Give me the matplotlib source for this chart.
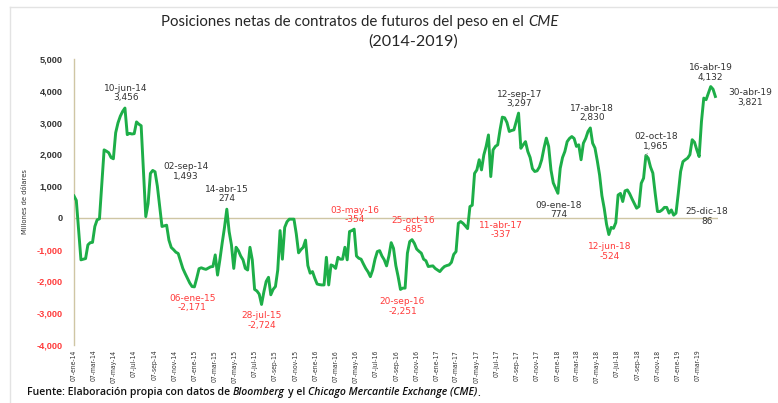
import matplotlib
matplotlib.use('Agg')
import matplotlib.pyplot as plt
from matplotlib import font_manager
import datetime as dt

# ---------------- data ----------------
dates = [
 "2014-01-07","2014-01-14","2014-01-28","2014-02-04","2014-02-11","2014-02-18","2014-02-25","2014-03-04",
 "2014-03-11","2014-03-18","2014-03-25","2014-04-08","2014-04-15","2014-04-22","2014-04-29","2014-05-06",
 "2014-05-13","2014-05-20","2014-05-27","2014-06-03","2014-06-10","2014-06-17","2014-06-24","2014-07-01",
 "2014-07-08","2014-07-15","2014-07-22","2014-07-29","2014-08-12","2014-08-19","2014-08-26","2014-09-02",
 "2014-09-09","2014-09-16","2014-09-30","2014-10-07","2014-10-14","2014-10-21","2014-10-28","2014-11-04",
 "2014-11-11","2014-11-18","2014-11-25","2014-12-02","2014-12-09","2014-12-16","2014-12-23","2014-12-30",
 "2015-01-06","2015-01-13","2015-01-20","2015-01-27","2015-02-03","2015-02-10","2015-02-17","2015-02-24",
 "2015-03-03","2015-03-10","2015-03-17","2015-03-24","2015-03-31","2015-04-07","2015-04-14","2015-04-21",
 "2015-04-28","2015-05-05","2015-05-12","2015-05-19","2015-05-26","2015-06-02","2015-06-09","2015-06-16",
 "2015-06-23","2015-06-30","2015-07-07","2015-07-14","2015-07-21","2015-07-28","2015-08-04","2015-08-11",
 "2015-08-18","2015-08-25","2015-09-01","2015-09-08","2015-09-15","2015-09-22","2015-09-29","2015-10-06",
 "2015-10-13","2015-10-20","2015-10-27","2015-11-03","2015-11-10","2015-11-17","2015-11-24","2015-12-01",
 "2015-12-08","2015-12-15","2015-12-22","2015-12-29","2016-01-05","2016-01-12","2016-01-19","2016-01-26",
 "2016-02-02","2016-02-09","2016-02-16","2016-02-23","2016-03-01","2016-03-08","2016-03-15","2016-03-22",
 "2016-03-29","2016-04-05","2016-04-12","2016-04-19","2016-04-26","2016-05-03","2016-05-10","2016-05-17",
 "2016-05-24","2016-05-31","2016-06-07","2016-06-14","2016-06-21","2016-06-28","2016-07-05","2016-07-12",
 "2016-07-19","2016-07-26","2016-08-02","2016-08-09","2016-08-16","2016-08-23","2016-08-30","2016-09-06",
 "2016-09-13","2016-09-20","2016-09-27","2016-10-04","2016-10-11","2016-10-18","2016-10-25","2016-11-01",
 "2016-11-08","2016-11-15","2016-11-22","2016-11-29","2016-12-06","2016-12-13","2016-12-20","2016-12-27",
 "2017-01-03","2017-01-10","2017-01-17","2017-01-24","2017-01-31","2017-02-07","2017-02-14","2017-02-21",
 "2017-02-28","2017-03-07","2017-03-14","2017-03-21","2017-03-28","2017-04-04","2017-04-11","2017-04-18",
 "2017-04-25","2017-05-02","2017-05-09","2017-05-16","2017-05-23","2017-05-30","2017-06-06","2017-06-13",
 "2017-06-20","2017-06-27","2017-07-04","2017-07-11","2017-07-18","2017-07-25","2017-08-01","2017-08-08",
 "2017-08-15","2017-08-22","2017-08-29","2017-09-05","2017-09-12","2017-09-19","2017-09-26","2017-10-03",
 "2017-10-10","2017-10-17","2017-10-24","2017-10-31","2017-11-07","2017-11-14","2017-11-21","2017-11-28",
 "2017-12-05","2017-12-12","2017-12-19","2017-12-26","2018-01-02","2018-01-09","2018-01-16","2018-01-23",
 "2018-01-30","2018-02-06","2018-02-13","2018-02-20","2018-02-27","2018-03-06","2018-03-13","2018-03-20",
 "2018-03-27","2018-04-03","2018-04-10","2018-04-17","2018-04-24","2018-05-01","2018-05-08","2018-05-15",
 "2018-05-22","2018-05-29","2018-06-05","2018-06-12","2018-06-19","2018-06-26","2018-07-03","2018-07-10",
 "2018-07-17","2018-07-24","2018-07-31","2018-08-07","2018-08-14","2018-08-21","2018-08-28","2018-09-04",
 "2018-09-11","2018-09-18","2018-09-25","2018-10-02","2018-10-09","2018-10-16","2018-10-23","2018-10-30",
 "2018-11-06","2018-11-13","2018-11-20","2018-11-27","2018-12-04","2018-12-11","2018-12-18","2018-12-25",
 "2019-01-01","2019-01-08","2019-01-15","2019-01-22","2019-01-29","2019-02-05","2019-02-12","2019-02-19",
 "2019-02-26","2019-03-05","2019-03-12","2019-03-19","2019-03-26","2019-04-02","2019-04-09","2019-04-16",
 "2019-04-23","2019-04-30",
]
values = [
 690, 550, -1320, -1300, -1280, -850, -780, -770,
 -270, -60, -30, 2140, 2100, 2050, 1900, 1860,
 2680, 2990, 3200, 3350, 3456, 2620, 2660, 2640,
 2650, 3020, 2950, 2900, 40, 450, 1400, 1493,
 1450, 1000, -270, -250, -230, -700, -930, -1000,
 -1080, -1120, -1350, -1590, -1750, -1900, -2050, -2160,
 -2171, -1900, -1600, -1570, -1600, -1620, -1580, -1540,
 -1530, -1165, -1800, -1320, -790, -300, 274, -430,
 -850, -1590, -925, -1030, -1200, -1320, -1590, -1640,
 -925, -1320, -2250, -2300, -2400, -2724, -2330, -2000,
 -1870, -2420, -2250, -2160, -1640, -400, -1300, -300,
 -120, -40, -40, -40, -500, -1100, -1000, -925,
 -700, -1500, -1740, -1690, -1900, -2080, -2100, -2110,
 -2110, -1240, -2110, -1480, -1510, -1590, -1240, -1300,
 -1300, -925, -1320, -430, -400, -354, -1200, -1270,
 -1300, -1450, -1590, -1700, -1850, -1640, -1300, -1060,
 -1030, -1200, -1320, -1510, -1200, -780, -960, -1500,
 -1850, -2251, -2210, -2210, -1110, -745, -685, -800,
 -980, -1050, -1110, -1300, -1350, -1530, -1520, -1510,
 -1590, -1640, -1690, -1600, -1530, -1500, -1480, -1400,
 -1150, -1060, -170, -115, -170, -250, -337, 355,
 400, 1400, 1510, 1830, 1510, 1980, 2250, 2610,
 1300, 2140, 2250, 2300, 2770, 3170, 3150, 3000,
 2720, 2750, 2770, 3030, 3297, 2190, 2300, 2400,
 2090, 1900, 1550, 1460, 1480, 1600, 1830, 2200,
 2510, 2250, 1510, 1100, 935, 774, 1560, 1900,
 2090, 2400, 2500, 2560, 2500, 2250, 2300, 1830,
 2350, 2500, 2720, 2830, 2350, 2200, 1800, 1350,
 700, 300, -200, -524, -300, -330, -150, 720,
 770, 515, 850, 880, 760, 600, 450, 305,
 360, 1090, 1250, 1965, 1880, 1600, 1410, 780,
 200, 200, 250, 330, 330, 150, 250, 86,
 150, 780, 1460, 1770, 1830, 1880, 1990, 2460,
 2380, 2140, 1930, 3030, 3770, 3720, 3930, 4132,
 4050, 3821,
]

annot_dates = ["2014-06-10", "2014-09-02", "2015-01-06", "2015-04-14", "2015-07-28", "2016-05-03",
               "2016-09-20", "2016-10-25", "2017-04-11", "2017-09-12", "2018-01-09", "2018-04-17",
               "2018-06-12", "2018-10-02", "2018-12-25", "2019-04-16", "2019-04-30"]
annot_values = [3456, 1493, -2171, 274, -2724, -354, -2251, -685, -337, 3297, 774, 2830,
                -524, 1965, 86, 4132, 3821]

yticks = [-4000, -3000, -2000, -1000, 0, 1000, 2000, 3000, 4000, 5000]
month_abbr = ["ene", "feb", "mar", "abr", "may", "jun", "jul", "ago", "sep", "oct", "nov", "dic"]
title_plain = "Posiciones netas de contratos de futuros del peso en el"
title_ital = "CME"
subtitle = "(2014-2019)"
ylabel = "Millones de dólares"
source_pieces = [("Fuente: Elaboración propia con datos de", "normal"), ("Bloomberg", "italic"),
                 ("y el", "normal"), ("Chicago Mercantile Exchange (CME)", "italic")]
source_end = "."

# ---------------- layout / style ----------------
W, H = 778, 403
annot_offsets = [(1, 15), (33, -1), (-2, -16), (0, 15), (0, -16), (1, 14),
                 (2, -17), (1, 14.5), (33, -1.5), (1, 14), (1, -17), (2, 15),
                 (1, -17), (10, 14), (33, -1.5), (0, 14), (35, -1)]

GREEN = "#1DAE48"
TAN = "#CFC6A4"
RED = "#FF3B3B"
DARK = "#333333"

fl = font_manager.fontManager.ttflist
names = {f.name for f in fl}
if "Liberation Sans Narrow" in names:
    NARROW, NSTRETCH, NSIZE, YLSIZE = "Liberation Sans Narrow", "normal", 6.0, 6.6
elif any(f.name == "DejaVu Sans" and f.stretch == "condensed" for f in fl):
    NARROW, NSTRETCH, NSIZE, YLSIZE = "DejaVu Sans", "condensed", 4.9, 5.4
else:
    NARROW, NSTRETCH, NSIZE, YLSIZE = "Liberation Sans", "normal", 4.9, 5.5
TITLEF = "Lato" if "Lato" in names else "DejaVu Sans"

def to_date(s):
    return dt.datetime.strptime(s, "%Y-%m-%d")

def es_label(d):
    return f"{d.day:02d}-{month_abbr[d.month-1]}-{d.year % 100:02d}"

x = [to_date(s) for s in dates]

fig = plt.figure(figsize=(W/100, H/100), dpi=100)
ax = fig.add_axes([74/W, 1-345/H, (718-74)/W, (345-59)/H])

ax.plot(x, values, color=GREEN, lw=2.1, solid_joinstyle="round", zorder=3)
ax.axhline(0, color=TAN, lw=1.0, zorder=1)

ax.set_ylim(-4000, 5000)
ax.set_xlim(x[0], x[-1] + dt.timedelta(days=8))
for s in ["top", "right", "bottom"]:
    ax.spines[s].set_visible(False)
ax.spines["left"].set_color(TAN)
ax.spines["left"].set_linewidth(1.0)

ax.set_yticks(yticks)
ax.set_yticklabels([f"{v:,}" for v in yticks])
for lab, v in zip(ax.get_yticklabels(), yticks):
    lab.set_color(RED if v < 0 else DARK)
    lab.set_fontfamily("Liberation Sans")
    lab.set_fontweight("bold")
    lab.set_fontsize(6.6)
ax.tick_params(axis="y", length=0, pad=8)

ticks = []
d = to_date("2014-01-07")
while d <= to_date("2019-03-07"):
    ticks.append(d)
    m = d.month + 2
    y = d.year + (m - 1) // 12
    m = (m - 1) % 12 + 1
    d = dt.datetime(y, m, 7)
ax.set_xticks(ticks)
ax.set_xticklabels([es_label(t) for t in ticks], rotation=90, fontfamily=NARROW,
                   fontstretch=NSTRETCH, fontsize=NSIZE, color=DARK)
ax.tick_params(axis="x", length=0, pad=3.5)

fig.text(25/W, 1-202/H, ylabel, rotation=90, ha="center", va="center",
         fontfamily=NARROW, fontstretch=NSTRETCH, fontsize=YLSIZE, color=DARK)

for ds, v, (dx, dy) in zip(annot_dates, annot_values, annot_offsets):
    dd = to_date(ds)
    col = RED if v < 0 else DARK
    txt = f"{es_label(dd)}\n{v:,}"
    kw = {}
    if ds == "2018-10-02":
        kw["arrowprops"] = dict(arrowstyle="-", color="#999999", lw=0.6, shrinkA=0, shrinkB=2)
    ax.annotate(txt, xy=(dd, v), xytext=(dx, dy), textcoords="offset pixels",
                ha="center", va="center", fontsize=6.5, color=col, linespacing=1.05,
                fontfamily="DejaVu Sans", annotation_clip=False, zorder=4, **kw)

renderer = fig.canvas.get_renderer()

def text_width(s, **kw):
    t = fig.text(0, 0, s, **kw)
    w = t.get_window_extent(renderer=renderer).width
    t.remove()
    return w

def rich(x_px, y_px, pieces, ha="left", **kw):
    sp = text_width("x x", **kw) - text_width("xx", **kw)
    widths = [text_width(s, fontstyle=st, **kw) for s, st in pieces]
    gaps = [sp if (i < len(pieces) - 1 and pieces[i+1][0] != ".") else 0
            for i in range(len(pieces))]
    total = sum(widths) + sum(gaps)
    cur = x_px - (total / 2 if ha == "center" else 0)
    for (s, st), w, g in zip(pieces, widths, gaps):
        fig.text(cur / W, 1 - y_px / H, s, fontstyle=st, ha="left", va="center", **kw)
        cur += w + g

rich(360, 22, [(title_plain, "normal"), (title_ital, "italic")], ha="center",
     fontfamily=TITLEF, fontsize=10.8, color="#262626")
fig.text(413/W, 1-42/H, subtitle, ha="center", va="center", fontfamily=TITLEF,
         fontsize=11.6, color="#262626")

rich(27, 393, source_pieces + [(source_end, "normal")], ha="left",
     fontfamily="Open Sans", fontweight="semibold", fontsize=7.6, color="#111111")

fig.add_artist(plt.Line2D([10/W, 10/W], [0, 1-7/H], transform=fig.transFigure,
                          color="#E3E3E3", lw=1.0))
fig.add_artist(plt.Line2D([10/W, 1], [1-7/H, 1-7/H], transform=fig.transFigure,
                          color="#E3E3E3", lw=1.0))

fig.savefig("out.png", dpi=100)
